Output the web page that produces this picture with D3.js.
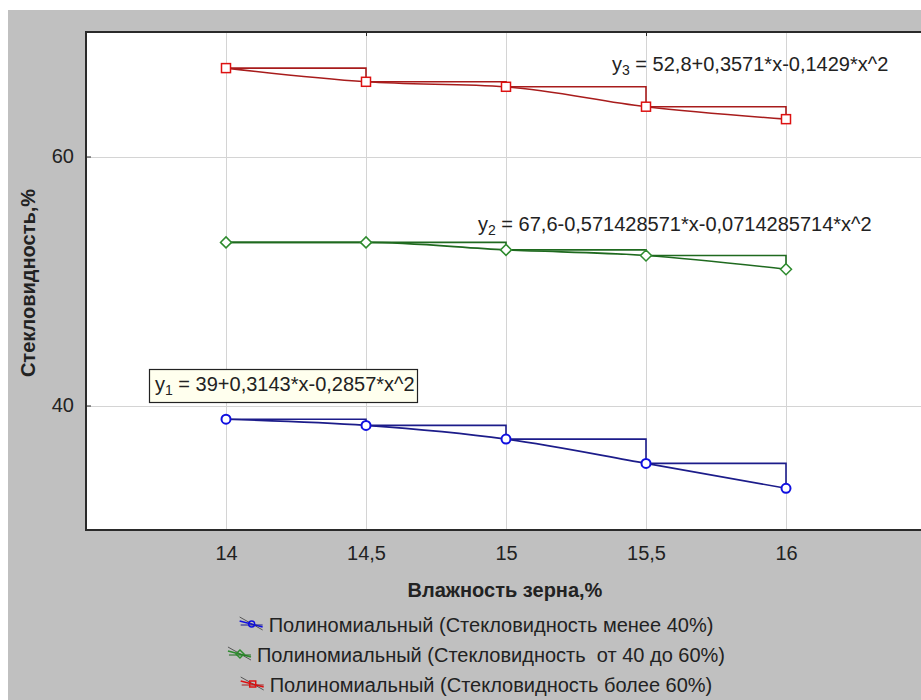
<!DOCTYPE html>
<html>
<head>
<meta charset="utf-8">
<script src="https://cdn.jsdelivr.net/npm/d3@7/dist/d3.min.js"></script>
<style>
  html, body { margin: 0; padding: 0; background: #ffffff; }
  svg { display: block; font-family: "Liberation Sans", Arial, sans-serif; }
  text { white-space: pre; }
</style>
</head>
<body>
<svg id="chart" width="921" height="700"></svg>
<script>
// Moisture levels (x) and vitreousness values for three grain groups
const moisture = [14, 14.5, 15, 15.5, 16];
const vitreousLow = [38.9, 38.4, 37.3, 35.35, 33.35];
const vitreousMid = [53.1, 53.1, 52.5, 52.05, 50.95];
const vitreousHigh = [67.1, 66.0, 65.6, 64.0, 63.0];

const xTicks = [14, 14.5, 15, 15.5, 16];
const yTicks = [40, 60];
const topTicks = [14.5, 15.5];

const seriesNames = [
  "Полиномиальный (Стекловидность менее 40%)",
  "Полиномиальный (Стекловидность  от 40 до 60%)",
  "Полиномиальный (Стекловидность более 60%)"
];
const equations = [
  { sub: "1", text: " = 39+0,3143*x-0,2857*x^2" },
  { sub: "2", text: " = 67,6-0,571428571*x-0,0714285714*x^2" },
  { sub: "3", text: " = 52,8+0,3571*x-0,1429*x^2" }
];

const xLabel = "Влажность зерна,%";
const yLabel = "Стекловидность,%";

const series = [
  { values: vitreousLow,  marker: "circle",  color: "#1010e0", dark: "#1c1c8a" },
  { values: vitreousMid,  marker: "diamond", color: "#2e8b2e", dark: "#1f6a1f" },
  { values: vitreousHigh, marker: "square",  color: "#dd1111", dark: "#a81c1c" }
];

const FONT = 20;
const svg = d3.select("#chart");
const W = 921, H = 700;
const plot = { left: 86, top: 32, right: 926, bottom: 530 };

const x = d3.scaleLinear().domain([13.5, 16.5]).range([plot.left, plot.right]);
const y = d3.scaleLinear().domain([30, 70]).range([plot.bottom, plot.top]);
const fmt = d => String(d).replace(".", ",");

// page background and gray panel
svg.append("rect").attr("width", W).attr("height", H).attr("fill", "#ffffff");
svg.append("rect").attr("x", 8).attr("y", 10).attr("width", W - 8).attr("height", H - 10).attr("fill", "#c0c0c0");

// white plotting area
svg.append("rect")
  .attr("x", plot.left).attr("y", plot.top)
  .attr("width", plot.right - plot.left).attr("height", plot.bottom - plot.top)
  .attr("fill", "#ffffff");

// grid
const grid = svg.append("g").attr("stroke", "#d4d4d4").attr("stroke-width", 1);
grid.selectAll("line.vx").data(xTicks).join("line")
  .attr("x1", d => Math.round(x(d)) + 0.5).attr("x2", d => Math.round(x(d)) + 0.5)
  .attr("y1", plot.top).attr("y2", plot.bottom);
grid.selectAll("line.hy").data(yTicks).join("line")
  .attr("x1", plot.left).attr("x2", plot.right)
  .attr("y1", d => Math.round(y(d)) + 0.5).attr("y2", d => Math.round(y(d)) + 0.5);

// frame (left, top, bottom)
const frame = svg.append("g").attr("stroke", "#2a2a2a").attr("stroke-width", 2).attr("fill", "none");
frame.append("path")
  .attr("d", `M${plot.right},${plot.top}H${plot.left}V${plot.bottom}H${plot.right}`);

// small inner ticks on the top edge
svg.append("g").selectAll("line").data(topTicks).join("line")
  .attr("x1", d => Math.round(x(d)) + 0.5).attr("x2", d => Math.round(x(d)) + 0.5)
  .attr("y1", plot.top).attr("y2", plot.top + 4)
  .attr("stroke", "#2a2a2a").attr("stroke-width", 1);

// axes
const xAxis = d3.axisBottom(x).tickValues(xTicks).tickFormat(fmt).tickSize(0).tickPadding(16);
const gx = svg.append("g").attr("transform", `translate(0,${plot.bottom})`).call(xAxis);
gx.select(".domain").remove();
gx.selectAll("text").attr("font-size", FONT).attr("fill", "#222").attr("font-family", "Liberation Sans, Arial, sans-serif");

const yAxis = d3.axisLeft(y).tickValues(yTicks).tickFormat(fmt).tickSize(-5).tickPadding(12);
const gy = svg.append("g").attr("transform", `translate(${plot.left},0)`).call(yAxis);
gy.select(".domain").remove();
gy.selectAll(".tick line").attr("stroke", "#2a2a2a");
gy.selectAll("text").attr("font-size", FONT).attr("fill", "#222").attr("font-family", "Liberation Sans, Arial, sans-serif");

// axis titles
svg.append("text")
  .attr("x", 505).attr("y", 597)
  .attr("text-anchor", "middle").attr("font-size", FONT).attr("font-weight", "bold").attr("fill", "#222")
  .text(xLabel);
svg.append("text")
  .attr("transform", "translate(35,283) rotate(-90)")
  .attr("text-anchor", "middle").attr("font-size", FONT).attr("font-weight", "bold").attr("fill", "#222")
  .text(yLabel);

// series: step line, smooth trend line, markers
const stepLine = d3.line().x(d => x(d[0])).y(d => y(d[1])).curve(d3.curveStepAfter);
const trendLine = d3.line().x(d => x(d[0])).y(d => y(d[1])).curve(d3.curveMonotoneX);

function drawMarker(g, kind, cx, cy, color) {
  if (kind === "circle") {
    g.append("circle").attr("cx", cx).attr("cy", cy).attr("r", 4.5)
      .attr("fill", "#ffffff").attr("stroke", color).attr("stroke-width", 2);
  } else if (kind === "square") {
    g.append("rect").attr("x", cx - 4.5).attr("y", cy - 4.5).attr("width", 9).attr("height", 9)
      .attr("fill", "#ffffff").attr("stroke", color).attr("stroke-width", 1.5);
  } else {
    g.append("path").attr("d", `M${cx},${cy - 5.5}L${cx + 5.5},${cy}L${cx},${cy + 5.5}L${cx - 5.5},${cy}Z`)
      .attr("fill", "#ffffff").attr("stroke", color).attr("stroke-width", 1.5);
  }
}

series.forEach(s => {
  const pts = moisture.map((m, i) => [m, s.values[i]]);
  const g = svg.append("g");
  g.append("path").attr("d", stepLine(pts)).attr("fill", "none")
    .attr("stroke", s.dark).attr("stroke-width", 1.6);
  g.append("path").attr("d", trendLine(pts)).attr("fill", "none")
    .attr("stroke", s.dark).attr("stroke-width", 1.6);
  pts.forEach(p => drawMarker(g, s.marker, x(p[0]), y(p[1]), s.color));
});

// trend equations
function equation(xPos, yPos, eq) {
  const t = svg.append("text").attr("x", xPos).attr("y", yPos)
    .attr("font-size", FONT).attr("fill", "#222");
  t.append("tspan").text("y");
  t.append("tspan").attr("font-size", 14).attr("dy", 4).text(eq.sub);
  t.append("tspan").attr("dy", -4).text(eq.text);
  return t;
}

// boxed label for the lowest group
svg.append("rect").attr("x", 149.5).attr("y", 369.5).attr("width", 268).attr("height", 33)
  .attr("fill", "#ffffee").attr("stroke", "#222").attr("stroke-width", 1.2);
equation(155, 391, equations[0]);
equation(478, 231, equations[1]);
equation(612, 71, equations[2]);

// legend rows centered under the axis title
const legendRows = [625, 655, 685];
const legendCenter = 476;
series.forEach((s, i) => {
  const cy = legendRows[i];
  const g = svg.append("g");
  const label = g.append("text").attr("y", cy + 7).attr("font-size", FONT).attr("fill", "#222").text(seriesNames[i]);
  const tw = label.node().getComputedTextLength();
  const iconW = 30;
  const startX = legendCenter - (iconW + tw) / 2;
  label.attr("x", startX + iconW);
  const cx = startX + 13;
  g.append("line").attr("x1", cx - 12).attr("y1", cy - 8).attr("x2", cx + 11).attr("y2", cy + 5)
    .attr("stroke", "#555").attr("stroke-width", 1);
  g.append("line").attr("x1", cx - 12).attr("y1", cy - 4).attr("x2", cx + 11).attr("y2", cy + 2)
    .attr("stroke", s.color).attr("stroke-width", 1.6);
  g.append("line").attr("x1", cx - 11).attr("y1", cy).attr("x2", cx + 11).attr("y2", cy)
    .attr("stroke", s.dark).attr("stroke-width", 1);
  if (s.marker === "circle") {
    g.append("circle").attr("cx", cx).attr("cy", cy - 1).attr("r", 3).attr("fill", "none").attr("stroke", s.color).attr("stroke-width", 1.5);
  } else if (s.marker === "square") {
    g.append("rect").attr("x", cx - 3).attr("y", cy - 4).attr("width", 6).attr("height", 6).attr("fill", "none").attr("stroke", s.color).attr("stroke-width", 1.5);
  } else {
    g.append("path").attr("d", `M${cx},${cy - 5}L${cx + 4},${cy - 1}L${cx},${cy + 3}L${cx - 4},${cy - 1}Z`).attr("fill", "none").attr("stroke", s.color).attr("stroke-width", 1.5);
  }
});
</script>
</body>
</html>
